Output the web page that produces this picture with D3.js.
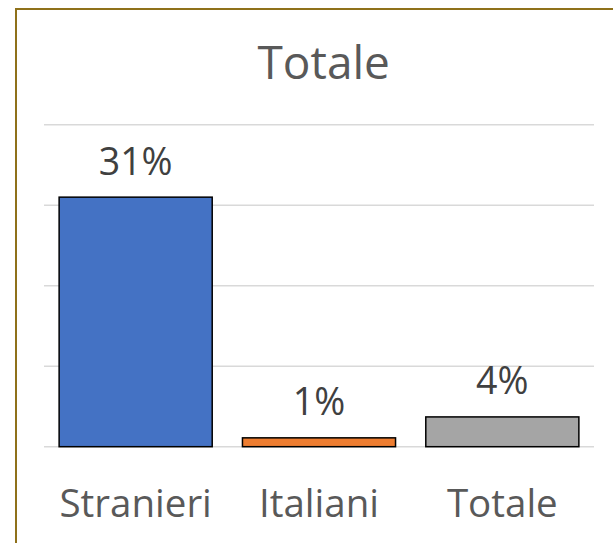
<!doctype html>
<html>
    <head>
        <meta charset="utf-8" />
        <title>Totale</title>
        <script src="https://cdn.jsdelivr.net/npm/d3@7"></script>
        <style type="text/css">
            html { margin: 0; height: 100%; overflow: hidden; }
            body { margin: 0; padding: 0; background: #fff; }
        </style>
    </head>
    <body>
        <script>
            // data
            const categories = ["Stranieri", "Italiani", "Totale"];
            const values = [0.31, 0.011, 0.037];
            const labels = ["31%", "1%", "4%"];
            const colors = ["#4472C4", "#ED7D31", "#A5A5A5"];
            const gridTicks = [0, 0.1, 0.2, 0.3, 0.4];
            const title = "Totale";

            const width = 613, height = 543;
            const font = "'Open Sans', 'Noto Sans', sans-serif";

            const svg = d3.select("body").append("svg")
                .attr("width", width)
                .attr("height", height);

            // chart frame, runs off the right and bottom edge
            svg.append("rect")
                .attr("x", 16).attr("y", 9)
                .attr("width", 640).attr("height", 560)
                .attr("fill", "#fff")
                .attr("stroke", "#8F711A")
                .attr("stroke-width", 2);

            const x = d3.scaleBand()
                .domain(categories)
                .range([44, 594])
                .paddingInner(0.165)
                .paddingOuter(0.0825);

            const y = d3.scaleLinear()
                .domain([0, 0.4])
                .range([446.7, 124.7]);

            // gridlines
            svg.append("g")
                .selectAll("line")
                .data(gridTicks)
                .join("line")
                .attr("x1", 44).attr("x2", 594)
                .attr("y1", d => y(d)).attr("y2", d => y(d))
                .attr("stroke", "#D9D9D9")
                .attr("stroke-width", 1.5);

            // bars
            svg.append("g")
                .selectAll("rect")
                .data(values)
                .join("rect")
                .attr("x", (d, i) => x(categories[i]))
                .attr("y", d => y(d))
                .attr("width", x.bandwidth())
                .attr("height", d => y(0) - y(d))
                .attr("fill", (d, i) => colors[i])
                .attr("stroke", "#000")
                .attr("stroke-width", 1.5);

            // value labels
            svg.append("g")
                .selectAll("text")
                .data(values)
                .join("text")
                .attr("x", (d, i) => x(categories[i]) + x.bandwidth() / 2)
                .attr("y", d => y(d) - 22.5)
                .attr("text-anchor", "middle")
                .style("font-family", font)
                .style("font-size", "37.5px")
                .attr("fill", "#404040")
                .text((d, i) => labels[i]);

            // category labels
            svg.append("g")
                .selectAll("text")
                .data(categories)
                .join("text")
                .attr("x", d => x(d) + x.bandwidth() / 2)
                .attr("y", 516.7)
                .attr("text-anchor", "middle")
                .style("font-family", font)
                .style("font-size", "38.5px")
                .attr("fill", "#595959")
                .text(d => d);

            // title
            svg.append("text")
                .attr("x", 323.7)
                .attr("y", 79.3)
                .attr("text-anchor", "middle")
                .style("font-family", font)
                .style("font-size", "46px")
                .attr("fill", "#595959")
                .text(title);
        </script>
    </body>
</html>
